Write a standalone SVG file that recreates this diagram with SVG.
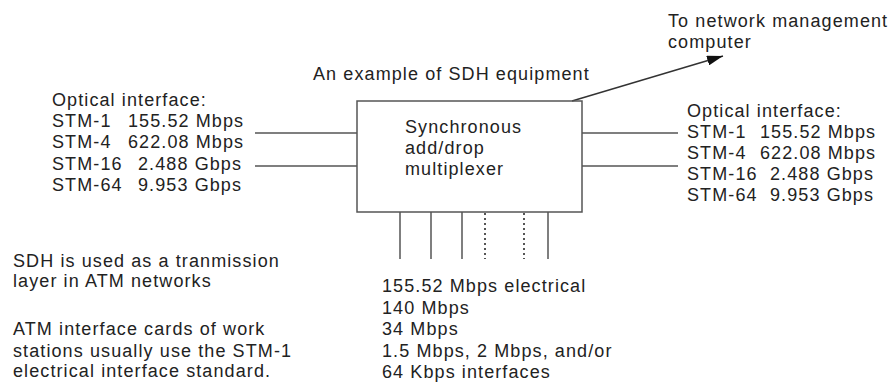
<svg xmlns="http://www.w3.org/2000/svg" width="894" height="383" viewBox="0 0 894 383">
<style>
text{font-family:"Liberation Sans",Arial,sans-serif;font-size:18px;letter-spacing:1.1px;fill:#222}
.ln{stroke:#555;stroke-width:1.5;fill:none}
.dot{stroke:#444;stroke-width:1.8;fill:none;stroke-dasharray:2 3}
</style>
<defs>
<marker id="ah" viewBox="0 0 16 10" refX="16" refY="5" markerWidth="16" markerHeight="10" markerUnits="userSpaceOnUse" orient="auto">
<path d="M0,0 L16,5 L0,10 z" fill="#111"/>
</marker>
</defs>
<rect width="894" height="383" fill="#fff"/>
<g id="connectors">
<line class="ln" x1="255" y1="133" x2="357" y2="133"/>
<line class="ln" x1="255" y1="166" x2="357" y2="166"/>
<line class="ln" x1="582" y1="133" x2="678" y2="133"/>
<line class="ln" x1="582" y1="166" x2="678" y2="166"/>
<line class="ln" x1="400" y1="212" x2="400" y2="259"/>
<line class="ln" x1="431" y1="212" x2="431" y2="259"/>
<line class="ln" x1="462" y1="212" x2="462" y2="259"/>
<line class="dot" x1="485" y1="213" x2="485" y2="259"/>
<line class="dot" x1="524" y1="213" x2="524" y2="259"/>
<line class="ln" x1="548" y1="212" x2="548" y2="259"/>
<line x1="572" y1="101" x2="723" y2="56" stroke="#333" stroke-width="1.5" marker-end="url(#ah)"/>
</g>
<g id="mux">
<rect class="ln" x="357" y="101" width="225" height="111"/>
<text x="405" y="133">Synchronous</text>
<text x="405" y="154">add/drop</text>
<text x="405" y="175">multiplexer</text>
</g>
<g id="title">
<text x="313" y="80">An example of SDH equipment</text>
</g>
<g id="nms">
<text x="668" y="27">To network management</text>
<text x="668" y="48">computer</text>
</g>
<g id="left-optical">
<text x="52" y="106">Optical interface:</text>
<text x="52" y="127">STM-1</text><text x="128" y="127">155.52 Mbps</text>
<text x="52" y="148">STM-4</text><text x="128" y="148">622.08 Mbps</text>
<text x="52" y="170">STM-16</text><text x="138" y="170">2.488 Gbps</text>
<text x="52" y="191">STM-64</text><text x="138" y="191">9.953 Gbps</text>
</g>
<g id="right-optical">
<text x="687" y="117">Optical interface:</text>
<text x="687" y="138">STM-1</text><text x="760" y="138">155.52 Mbps</text>
<text x="687" y="159">STM-4</text><text x="760" y="159">622.08 Mbps</text>
<text x="687" y="180">STM-16</text><text x="770" y="180">2.488 Gbps</text>
<text x="687" y="201">STM-64</text><text x="770" y="201">9.953 Gbps</text>
</g>
<g id="electrical">
<text x="382" y="292">155.52 Mbps electrical</text>
<text x="382" y="314">140 Mbps</text>
<text x="382" y="335">34 Mbps</text>
<text x="382" y="357">1.5 Mbps, 2 Mbps, and/or</text>
<text x="382" y="378">64 Kbps interfaces</text>
</g>
<g id="notes">
<text x="13" y="267">SDH is used as a tranmission</text>
<text x="13" y="287">layer in ATM networks</text>
<text x="13" y="335">ATM interface cards of work</text>
<text x="13" y="357">stations usually use the STM-1</text>
<text x="13" y="377">electrical interface standard.</text>
</g>
</svg>
